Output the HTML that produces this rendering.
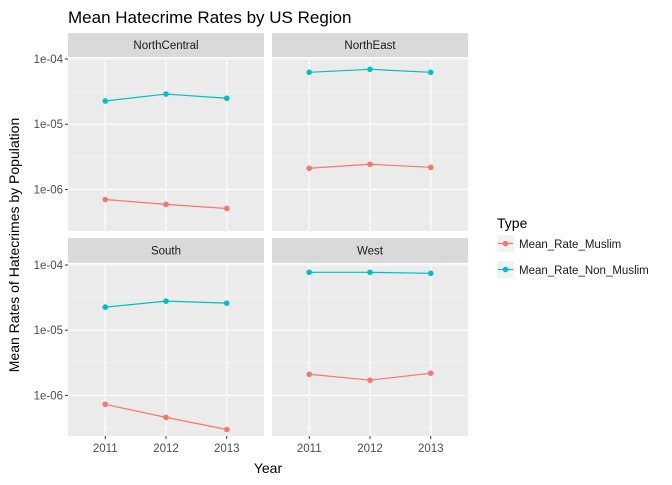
<!DOCTYPE html>
<html><head><meta charset="utf-8"><style>
body{margin:0;background:#fff;font-family:"Liberation Sans",sans-serif}
</style></head><body>
<svg id="chart" width="672" height="480" xmlns="http://www.w3.org/2000/svg" font-family="Liberation Sans, sans-serif">
<text x="68" y="23" font-size="17" fill="#000">Mean Hatecrime Rates by US Region</text>
<text transform="translate(19,245) rotate(-90)" text-anchor="middle" font-size="14">Mean Rates of Hatecrimes by Population</text>
<text x="268" y="473" text-anchor="middle" font-size="14">Year</text>
<g>
<text x="497" y="228" font-size="14">Type</text>
<g>
<rect x="497" y="235" width="17" height="17" fill="#f2f2f2"/>
<line x1="498" y1="243.5" x2="513" y2="243.5" stroke="#F8766D" stroke-width="1.2"/>
<circle cx="505.5" cy="243.5" r="2.8" fill="#F8766D"/>
<text x="519" y="248" font-size="11.5" fill="#1a1a1a">Mean_Rate_Muslim</text></g>
<g>
<rect x="497" y="261" width="17" height="17" fill="#f2f2f2"/>
<line x1="498" y1="269.5" x2="513" y2="269.5" stroke="#00BFC4" stroke-width="1.2"/>
<circle cx="505.5" cy="269.5" r="2.8" fill="#00BFC4"/>
<text x="519" y="274" font-size="11.5" fill="#1a1a1a">Mean_Rate_Non_Muslim</text></g>
</g>
<g id="panels"></g>
</svg>
<script>
const years = [2011, 2012, 2013];
const regions = ["NorthCentral", "NorthEast", "South", "West"];
const muslim = {
  NorthCentral: [7.0e-7, 5.9e-7, 5.1e-7],
  NorthEast: [2.11e-6, 2.43e-6, 2.18e-6],
  South: [7.3e-7, 4.6e-7, 3.0e-7],
  West: [2.11e-6, 1.71e-6, 2.19e-6]
};
const nonMuslim = {
  NorthCentral: [2.27e-5, 2.9e-5, 2.5e-5],
  NorthEast: [6.25e-5, 6.95e-5, 6.25e-5],
  South: [2.26e-5, 2.79e-5, 2.6e-5],
  West: [7.73e-5, 7.73e-5, 7.46e-5]
};
const yTickVals = [1e-4, 1e-5, 1e-6];
const yTickLabels = ["1e-04", "1e-05", "1e-06"];

const NS = "http://www.w3.org/2000/svg";
const g = document.getElementById("panels");
function mk(tag, attrs, parent){const e=document.createElementNS(NS,tag);for(const k in attrs)e.setAttribute(k,attrs[k]);(parent||g).appendChild(e);return e;}
const layout = [
  {x0:68,x1:264,st:33,sb:57,pb:231},
  {x0:272,x1:468,st:33,sb:57,pb:231},
  {x0:68,x1:264,st:238,sb:263,pb:436},
  {x0:272,x1:468,st:238,sb:263,pb:436}
];
const DEC = 65.2;
regions.forEach((r,i)=>{
  const L = layout[i];
  const top = L.sb+1;
  const w = L.x1-L.x0;
  const xs = v => L.x0 + w*(0.19 + 0.31*(years.indexOf(v)));
  const ys = v => top + 1 + (-4 - Math.log10(v))*DEC;
  const pg = mk("g",{});
  
  
  const strip = mk("rect",{x:L.x0,y:L.st,width:w,height:L.sb-L.st,fill:"#d9d9d9"},pg);
  
  
  const st = mk("text",{x:(L.x0+L.x1)/2,y:(L.st+L.sb)/2+4,"text-anchor":"middle","font-size":"11.5",fill:"#1a1a1a"},pg);
  st.textContent = r;
  
  
  mk("rect",{x:L.x0,y:top,width:w,height:L.pb-top,fill:"#ebebeb"},pg);
  // minor grid
  [-4.5,-5.5,-6.5].forEach(lg=>{const y=ys(Math.pow(10,lg)); if(y<L.pb&&y>top) mk("line",{x1:L.x0,x2:L.x1,y1:y,y2:y,stroke:"#f5f5f5","stroke-width":0.6},pg);});
  yTickVals.forEach((v,k)=>{
    const y=ys(v);
    mk("line",{x1:L.x0,x2:L.x1,y1:y,y2:y,stroke:"#fff","stroke-width":1.1},pg);
    if(i%2===0){
      mk("line",{x1:L.x0-3,x2:L.x0,y1:y,y2:y,stroke:"#333"},pg);
      const t=mk("text",{x:L.x0-5,y:y+4,"text-anchor":"end","font-size":"11.5",fill:"#4d4d4d"},pg);
      t.textContent=yTickLabels[k];
      
      
    }
  });
  years.forEach(yr=>{
    const x=xs(yr);
    mk("line",{x1:x,x2:x,y1:top,y2:L.pb,stroke:"#fff","stroke-width":1.1},pg);
    if(i>=2){
      mk("line",{x1:x,x2:x,y1:L.pb,y2:L.pb+3,stroke:"#333"},pg);
      const t=mk("text",{x:x,y:L.pb+16,"text-anchor":"middle","font-size":"11.5",fill:"#4d4d4d"},pg);
      t.textContent=yr;
      
      
    }
  });
  [[nonMuslim,"#00BFC4","non-muslim"],[muslim,"#F8766D","muslim"]].forEach(([ser,col,nm])=>{
    const vals=ser[r];
    const pts=vals.map((v,j)=>xs(years[j])+","+ys(v)).join(" ");
    const pl=mk("polyline",{points:pts,fill:"none",stroke:col,"stroke-width":1.2},pg);
    
    
    vals.forEach((v,j)=>{
      const c=mk("circle",{cx:xs(years[j]),cy:ys(v),r:2.8,fill:col},pg);
      
      
    });
  });
});
</script>
</body></html>
